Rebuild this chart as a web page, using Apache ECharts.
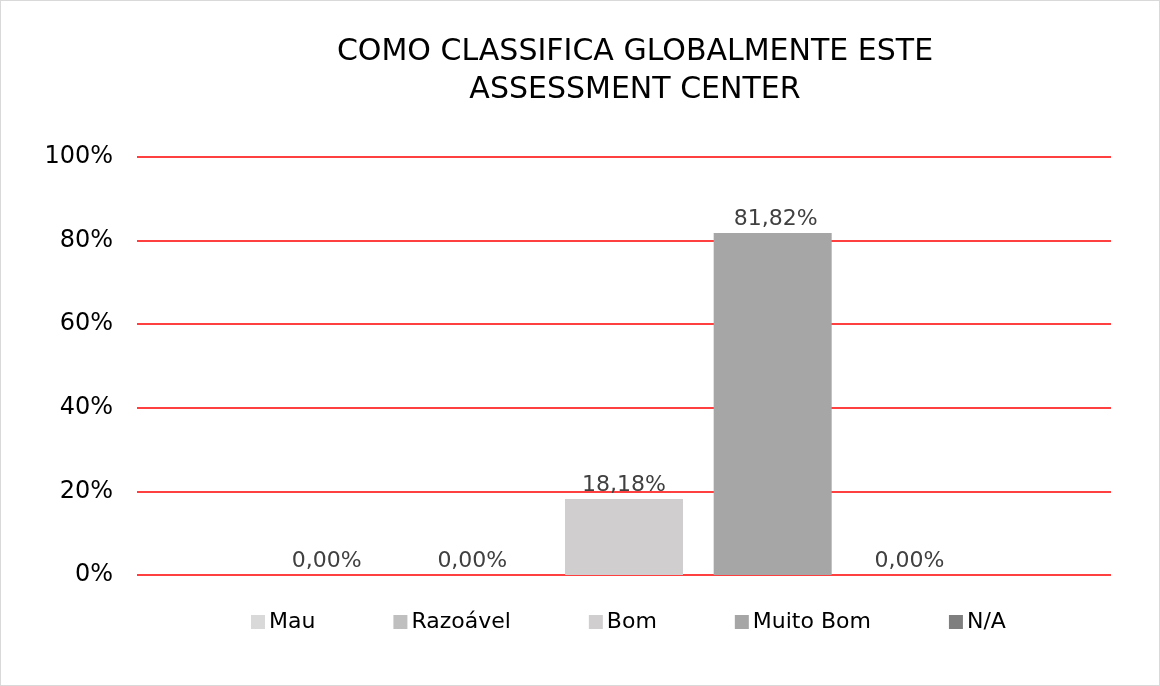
<!DOCTYPE html>
<html><head><meta charset="utf-8">
<script src="https://cdn.jsdelivr.net/npm/echarts@6/dist/echarts.min.js"></script>
<style>html,body{margin:0;padding:0;background:#fff}#c{width:1158px;height:684px;border:1px solid #d9d9d9}</style>
</head><body><div id="c"></div>
<script>
var titleText = 'COMO CLASSIFICA GLOBALMENTE ESTE\nASSESSMENT CENTER';
var categories = [''];
var seriesNames = ['Mau', 'Razoável', 'Bom', 'Muito Bom', 'N/A'];
var seriesValues = [0, 0, 18.18, 81.82, 0];
var seriesColors = ['#d9d9d9', '#bfbfbf', '#d0cecf', '#a6a6a6', '#7f7f7f'];
var yTicks = [0, 20, 40, 60, 80, 100];
var FONT = 'DejaVu Sans';
var labelOffsets = [[0,0],[-3,0],[0,0],[3,0],[-12,0]];
var chart = echarts.init(document.getElementById('c'));
chart.setOption({
  animation: false,
  title: { text: titleText, left: 629, top: 27, textAlign: 'center', textStyle: { fontFamily: FONT, fontSize: 30, fontWeight: 'normal', color: '#000', lineHeight: 38 } },
  legend: { bottom: 47, left: 245, itemWidth: 14, itemHeight: 14, itemGap: 78, icon: 'rect', textStyle: { fontFamily: FONT, fontSize: 22, color: '#000', padding: [0,0,0,-1] } , data: seriesNames},
  grid: { left: 136, right: 48, top: 156, bottom: 110 },
  xAxis: { type: 'category', data: categories, axisLine: { show: false }, axisTick: { show: false }, axisLabel: { show: false } },
  yAxis: { type: 'value', min: 0, max: 100, interval: 20,
    axisLine: { show: false }, axisTick: { show: false },
    axisLabel: { fontFamily: FONT, fontSize: 24, color: '#000', margin: 24, formatter: function(v){ return v + '%'; } },
    splitLine: { lineStyle: { color: '#ff0000', width: 1.5 } } },
  series: seriesNames.map(function(n, i){
    return { name: n, type: 'bar', data: [seriesValues[i]], barWidth: 118, barGap: '26%',
      itemStyle: { color: seriesColors[i] },
      label: { show: true, position: 'top', distance: 3, offset: labelOffsets[i], fontFamily: FONT, fontSize: 22, color: '#404040',
        formatter: function(p){ return p.value.toFixed(2).replace('.', ',') + '%'; } } };
  })
});
</script></body></html>
